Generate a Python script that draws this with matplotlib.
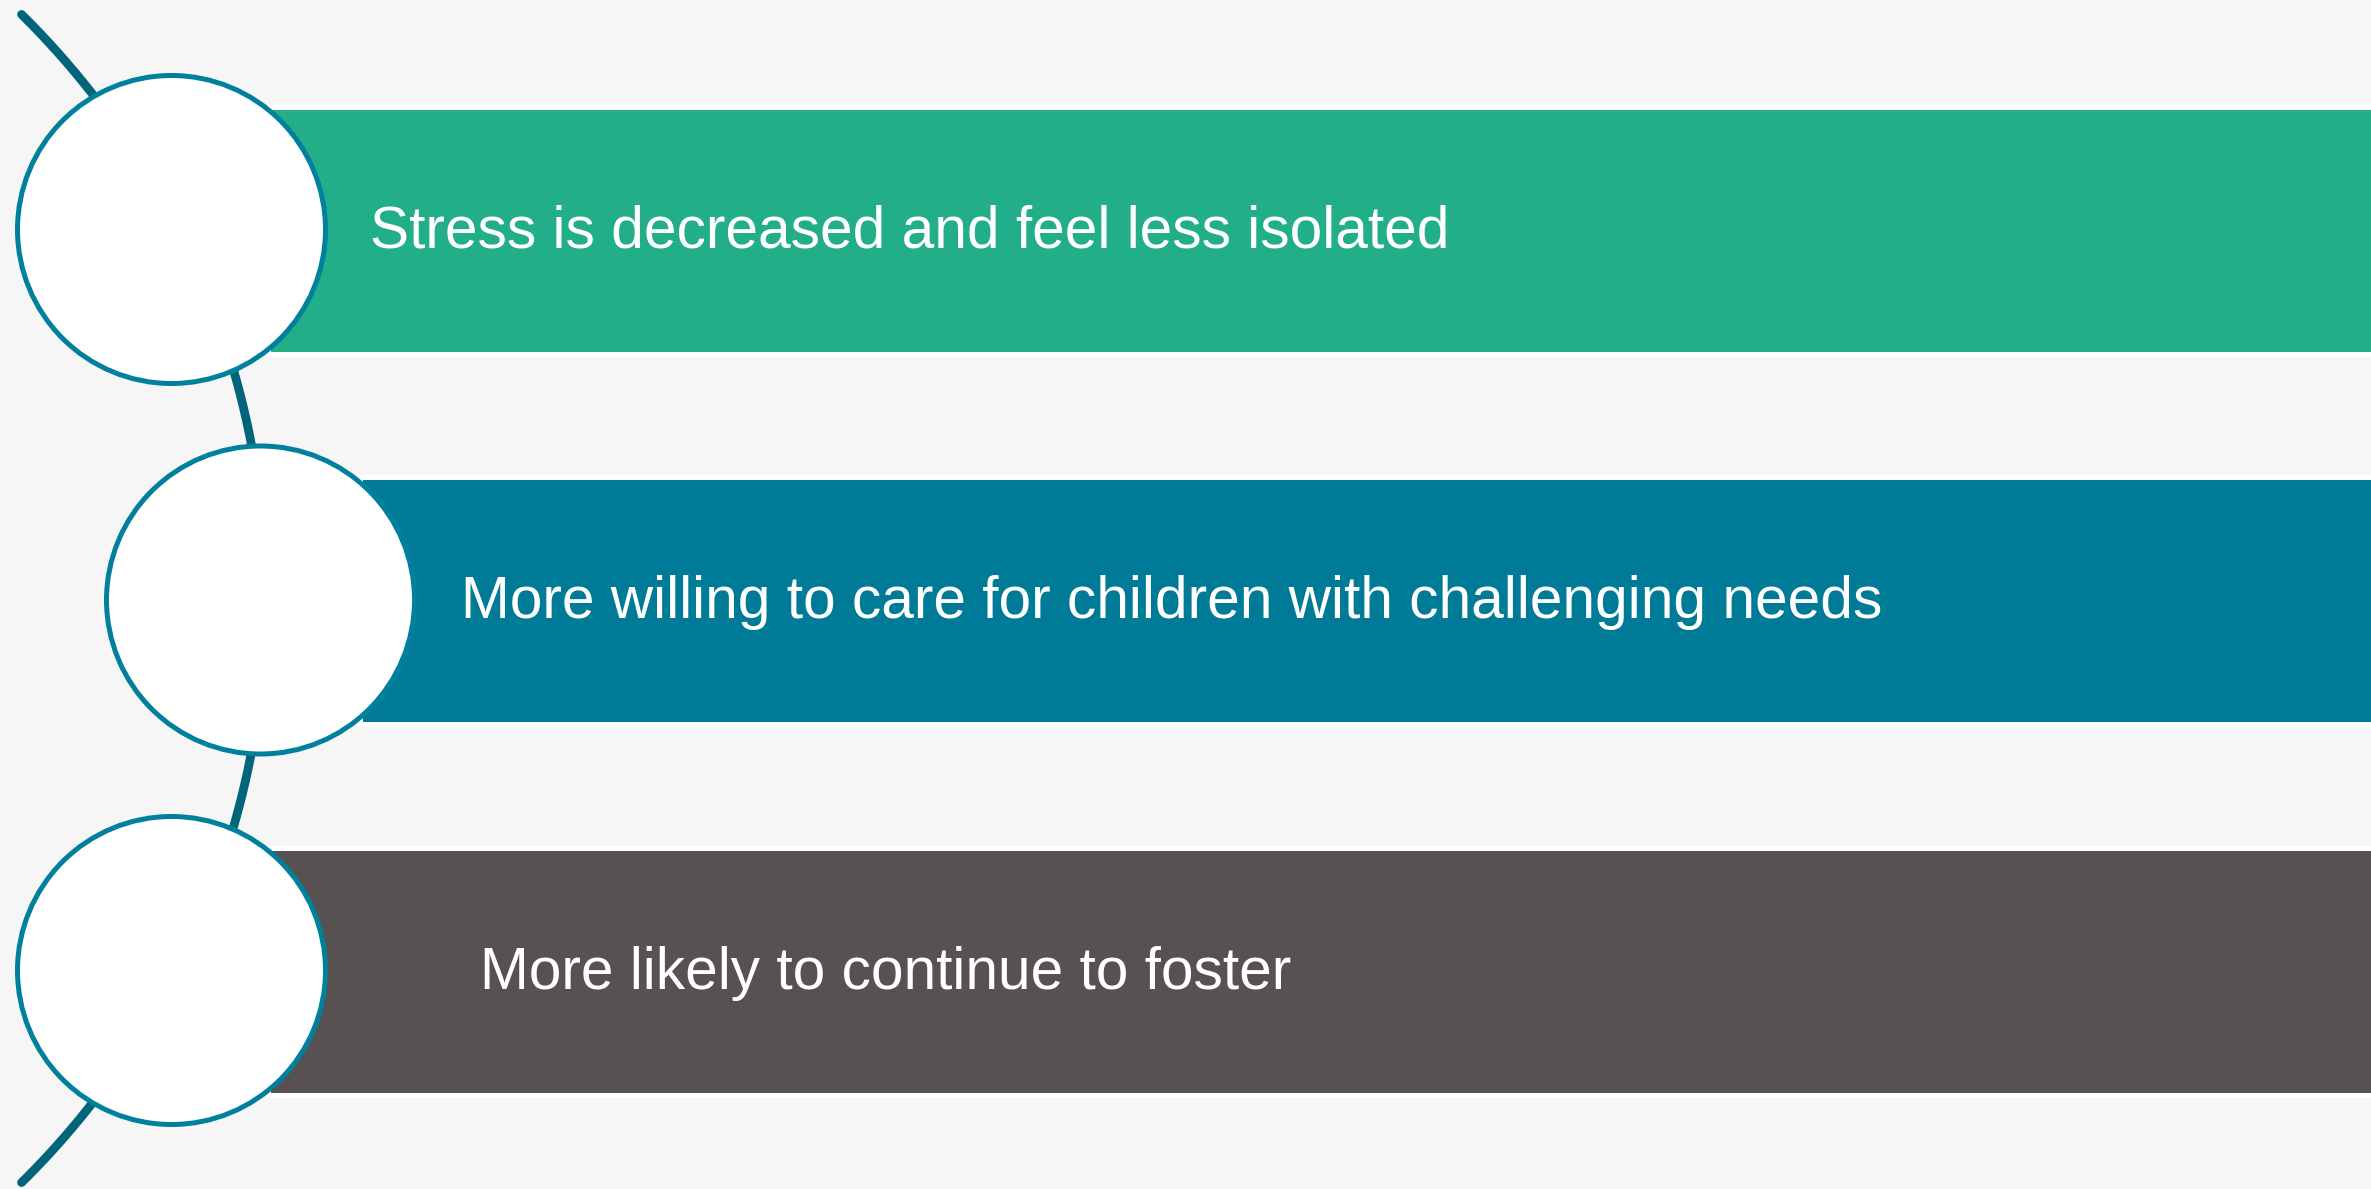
import numpy as np
import matplotlib
matplotlib.use("Agg")
import matplotlib.pyplot as plt
from matplotlib.patches import Rectangle, Circle

# content
labels = [
    "Stress is decreased and feel less isolated",
    "More willing to care for children with challenging needs",
    "More likely to continue to foster",
]
bar_colors = ["#23AE8A", "#007B97", "#575151"]

# layout (pixels, y down)
W, H = 2371, 1189
bar_tops = [106.5, 476.5, 847.5]
bar_h = 247
bar_lefts = [268, 360, 268]
circle_cx = [171.5, 260.5, 171.5]
circle_cy = [229.5, 600, 970.5]
circle_r = 154
text_x = [370, 461, 480]
text_base = [248, 618, 989]

fig = plt.figure(figsize=(W / 100, H / 100), dpi=100)
fig.patch.set_facecolor("#F6F6F6")
ax = fig.add_axes([0, 0, 1, 1])
ax.set_xlim(0, W)
ax.set_ylim(H, 0)
ax.set_facecolor("#F6F6F6")
ax.axis("off")

# connecting arc
acx, acy, ar = -554, 598.5, 820
t0 = np.arctan2(14 - acy, 22 - acx)
t1 = np.arctan2(1183 - acy, 22 - acx)
t = np.linspace(t0, t1, 300)
ax.plot(acx + ar * np.cos(t), acy + ar * np.sin(t), color="#00657A",
        lw=6.3, solid_capstyle="round", zorder=1)

for i, lab in enumerate(labels):
    ax.add_patch(Rectangle((bar_lefts[i], bar_tops[i]), W - bar_lefts[i] + 10, bar_h,
                           facecolor=bar_colors[i], edgecolor="white", lw=3.6, zorder=2))
    ax.add_patch(Circle((circle_cx[i], circle_cy[i]), circle_r, facecolor="white",
                        edgecolor="#00809C", lw=3.6, zorder=3))
    ax.text(text_x[i], text_base[i], lab, color="white", fontsize=42.2,
            family=["Liberation Sans", "DejaVu Sans"], va="baseline", ha="left", zorder=4)

fig.savefig("out.png", dpi=100, facecolor=fig.get_facecolor())
